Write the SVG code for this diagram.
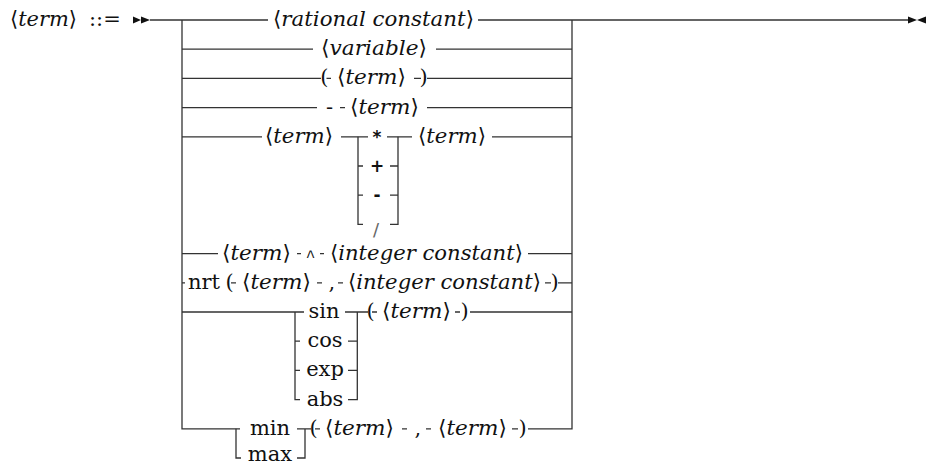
<svg xmlns="http://www.w3.org/2000/svg" width="929" height="466" viewBox="0 0 929 466">
<style>
text{font-family:"DejaVu Serif","DejaVu Sans",serif;font-size:21px;fill:#111}
.it{font-style:italic}
.op{font-family:"DejaVu Sans",sans-serif;font-size:17px;font-weight:bold}
.mono{font-family:"Liberation Mono",monospace;font-size:16px}
.c{text-anchor:middle}
#connectors path{stroke:#333;stroke-width:1.3;fill:none}
.ah{fill:#111}
</style>
<rect width="929" height="466" fill="#fff"/>
<g id="connectors">
<path d="M150,20H268M478,20H908"/>
<path d="M182,20V428.8H240M572,20V428.8H528"/>
<path d="M182,49.2H313M436,49.2H572"/>
<path d="M182,78.4H321M326.5,78.4H331M414,78.4H421M427,78.4H572"/>
<path d="M182,107.6H317M340,107.6H345M427,107.6H572"/>
<path d="M182,136.8H262M341,136.8H368M387,136.8H412M492,136.8H572"/>
<path d="M358,136.8V224.4H363M358,166H363M358,195.2H363"/>
<path d="M398,136.8V224.4H390M398,166H390M398,195.2H390"/>
<path d="M182,253.6H218M297,253.6H301M320,253.6H324M528,253.6H572"/>
<path d="M182,282.8H185M231,282.8H236M317,282.8H322M338,282.8H343M545,282.8H551M558,282.8H572"/>
<path d="M182,312H304M345,312H368M372,312H377M455,312H460M470,312H572"/>
<path d="M295,312V399.6H300M295,341.2H300M295,370.4H300"/>
<path d="M357.3,312V399.6H348M357.3,341.2H348M357.3,370.4H348"/>
<path d="M236,428.8V458H241M297,428.8H311M305,428.8V458H297"/>
<path d="M315,428.8H320M402,428.8H407M426,428.8H431M512,428.8H518"/>
<polygon class="ah" points="133,16.5 141,20 133,23.5"/>
<polygon class="ah" points="141,16.5 150,20 141,23.5"/>
<polygon class="ah" points="908,16.5 917,20 908,23.5"/>
<polygon class="ah" points="926,16.5 917,20 926,23.5"/>
</g>
<g id="lhs"><text x="10" y="26" textLength="67" lengthAdjust="spacingAndGlyphs">⟨<tspan class="it">term</tspan>⟩</text><text x="89" y="26">::=</text></g>
<g id="n-rational"><text x="273" y="26" textLength="201" lengthAdjust="spacingAndGlyphs">⟨<tspan class="it">rational constant</tspan>⟩</text></g>
<g id="n-variable"><text x="321" y="55.2" textLength="106" lengthAdjust="spacingAndGlyphs">⟨<tspan class="it">variable</tspan>⟩</text></g>
<g id="n-paren"><text x="320.3" y="84.4">(</text><text x="337" y="84.4" textLength="69" lengthAdjust="spacingAndGlyphs">⟨<tspan class="it">term</tspan>⟩</text><text x="419.5" y="84.4">)</text></g>
<g id="n-neg"><text x="326" y="113.6">-</text><text x="350" y="113.6" textLength="69" lengthAdjust="spacingAndGlyphs">⟨<tspan class="it">term</tspan>⟩</text></g>
<g id="n-binop"><text x="265" y="142.8" textLength="68" lengthAdjust="spacingAndGlyphs">⟨<tspan class="it">term</tspan>⟩</text>
<text class="op c" x="377" y="143">*</text><text class="op c" x="377" y="172">+</text><text class="op c" x="377" y="201">-</text><text class="c" x="376" y="236" style="font-family:'DejaVu Sans',sans-serif;font-size:18px;fill:#666">/</text>
<text x="418" y="142.8" textLength="68" lengthAdjust="spacingAndGlyphs">⟨<tspan class="it">term</tspan>⟩</text></g>
<g id="n-pow"><text x="222" y="259.6" textLength="69" lengthAdjust="spacingAndGlyphs">⟨<tspan class="it">term</tspan>⟩</text><text class="mono c" x="310.5" y="262">^</text><text x="330" y="259.6" textLength="193" lengthAdjust="spacingAndGlyphs">⟨<tspan class="it">integer constant</tspan>⟩</text></g>
<g id="n-nrt"><text x="188" y="288.8">nrt</text><text x="225.5" y="288.8">(</text><text x="242" y="288.8" textLength="69" lengthAdjust="spacingAndGlyphs">⟨<tspan class="it">term</tspan>⟩</text><text x="328.5" y="288.8">,</text><text x="348" y="288.8" textLength="193" lengthAdjust="spacingAndGlyphs">⟨<tspan class="it">integer constant</tspan>⟩</text><text x="550.5" y="288.8">)</text></g>
<g id="n-func"><text class="c" x="324" y="318">sin</text><text class="c" x="325" y="347.2">cos</text><text class="c" x="325" y="376.4">exp</text><text class="c" x="325" y="405.6">abs</text>
<text x="366.5" y="318">(</text><text x="382" y="318" textLength="69" lengthAdjust="spacingAndGlyphs">⟨<tspan class="it">term</tspan>⟩</text><text x="460.5" y="318">)</text></g>
<g id="n-minmax"><text class="c" x="270" y="434.8">min</text><text class="c" x="270" y="460.5">max</text>
<text x="309.5" y="434.8">(</text><text x="325" y="434.8" textLength="69" lengthAdjust="spacingAndGlyphs">⟨<tspan class="it">term</tspan>⟩</text><text x="414.5" y="434.8">,</text><text x="438" y="434.8" textLength="69" lengthAdjust="spacingAndGlyphs">⟨<tspan class="it">term</tspan>⟩</text><text x="518.5" y="434.8">)</text></g>
</svg>
